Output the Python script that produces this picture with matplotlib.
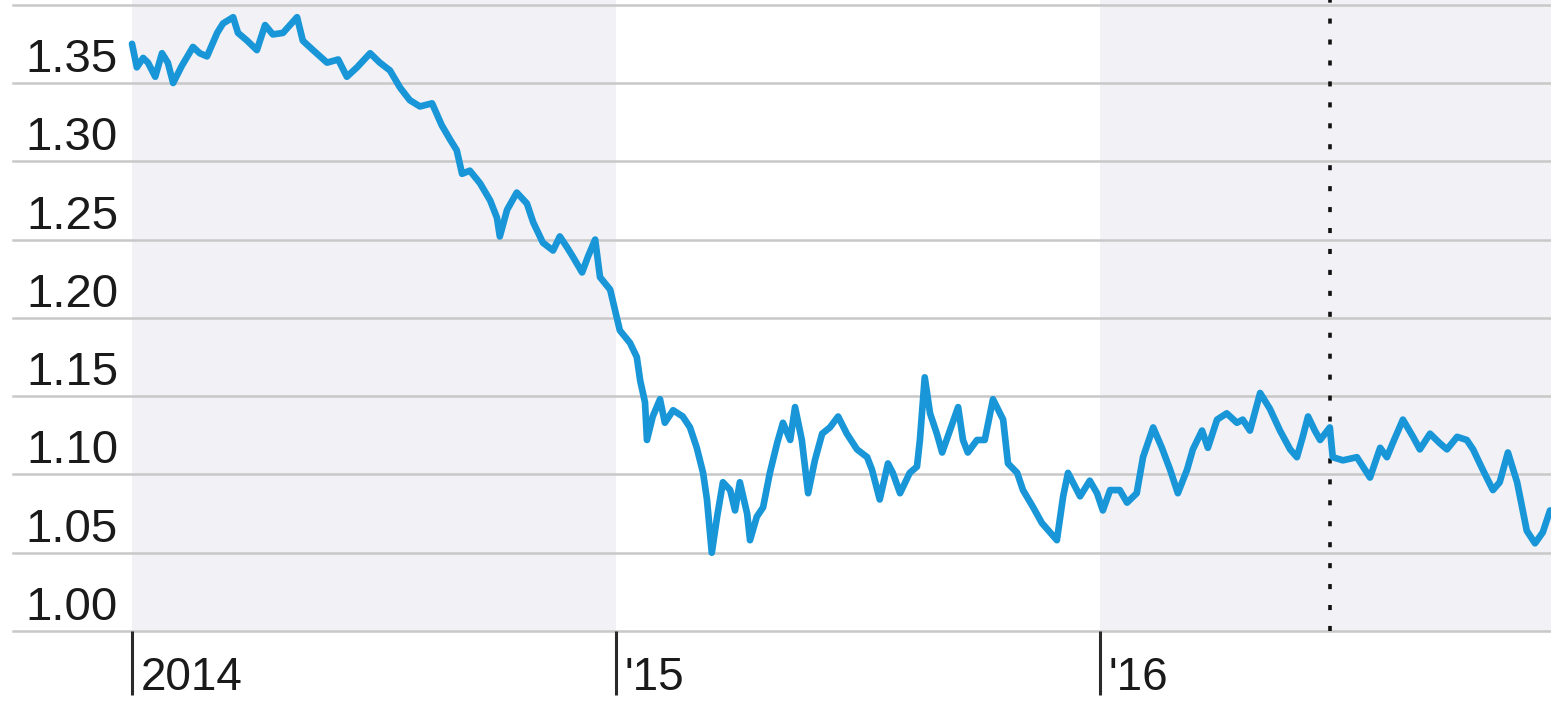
"""
Euro vs dollar, 2014 - late 2016
Line chart with shaded alternating years and a dotted marker at the Brexit vote
"""

import matplotlib
matplotlib.use('Agg')
import matplotlib.pyplot as plt

# ─────────────────────────────────────────────
# DATOS
# ─────────────────────────────────────────────
years = [
    2014.000, 2014.010, 2014.023, 2014.033, 2014.048, 2014.062, 2014.074, 2014.085,
    2014.103, 2014.126, 2014.140, 2014.155, 2014.176, 2014.188, 2014.209, 2014.219,
    2014.238, 2014.258, 2014.275, 2014.291, 2014.312, 2014.341, 2014.353, 2014.374,
    2014.403, 2014.426, 2014.444, 2014.465, 2014.492, 2014.512, 2014.533, 2014.554,
    2014.574, 2014.595, 2014.620, 2014.640, 2014.657, 2014.671, 2014.682, 2014.698,
    2014.719, 2014.740, 2014.754, 2014.760, 2014.775, 2014.795, 2014.816, 2014.829,
    2014.849, 2014.870, 2014.884, 2014.899, 2014.911, 2014.930, 2014.942, 2014.957,
    2014.967, 2014.988, 2015.008, 2015.029, 2015.043, 2015.050, 2015.060, 2015.064,
    2015.076, 2015.091, 2015.101, 2015.118, 2015.138, 2015.153, 2015.167, 2015.180,
    2015.188, 2015.198, 2015.209, 2015.221, 2015.236, 2015.246, 2015.256, 2015.271,
    2015.277, 2015.291, 2015.304, 2015.318, 2015.333, 2015.345, 2015.360, 2015.370,
    2015.384, 2015.397, 2015.411, 2015.426, 2015.442, 2015.459, 2015.477, 2015.498,
    2015.519, 2015.529, 2015.545, 2015.562, 2015.572, 2015.587, 2015.607, 2015.622,
    2015.628, 2015.638, 2015.649, 2015.663, 2015.674, 2015.690, 2015.707, 2015.717,
    2015.727, 2015.746, 2015.762, 2015.779, 2015.800, 2015.810, 2015.829, 2015.841,
    2015.862, 2015.880, 2015.897, 2015.911, 2015.924, 2015.934, 2015.944, 2015.959,
    2015.979, 2015.994, 2016.006, 2016.021, 2016.041, 2016.056, 2016.076, 2016.089,
    2016.110, 2016.128, 2016.145, 2016.161, 2016.180, 2016.192, 2016.211, 2016.223,
    2016.242, 2016.262, 2016.283, 2016.295, 2016.310, 2016.331, 2016.351, 2016.372,
    2016.393, 2016.407, 2016.419, 2016.430, 2016.444, 2016.455, 2016.465, 2016.475,
    2016.481, 2016.502, 2016.531, 2016.558, 2016.579, 2016.593, 2016.605, 2016.626,
    2016.647, 2016.661, 2016.682, 2016.702, 2016.717, 2016.738, 2016.758, 2016.771,
    2016.791, 2016.812, 2016.826, 2016.843, 2016.862, 2016.882, 2016.899, 2016.915,
    2016.930,
]

eur_usd = [
    1.375, 1.360, 1.366, 1.363, 1.354, 1.369, 1.363, 1.350,
    1.361, 1.373, 1.369, 1.367, 1.382, 1.388, 1.392, 1.382,
    1.377, 1.371, 1.387, 1.381, 1.382, 1.392, 1.377, 1.371,
    1.363, 1.365, 1.354, 1.360, 1.369, 1.363, 1.358, 1.347,
    1.339, 1.335, 1.337, 1.323, 1.314, 1.307, 1.292, 1.294,
    1.286, 1.275, 1.264, 1.252, 1.269, 1.280, 1.273, 1.261,
    1.248, 1.243, 1.252, 1.245, 1.239, 1.229, 1.239, 1.250,
    1.226, 1.218, 1.192, 1.184, 1.175, 1.160, 1.146, 1.122,
    1.137, 1.148, 1.133, 1.141, 1.137, 1.130, 1.117, 1.101,
    1.084, 1.050, 1.073, 1.095, 1.090, 1.077, 1.095, 1.075,
    1.058, 1.073, 1.079, 1.101, 1.120, 1.133, 1.122, 1.143,
    1.122, 1.088, 1.109, 1.126, 1.130, 1.137, 1.126, 1.116,
    1.111, 1.103, 1.084, 1.107, 1.101, 1.088, 1.101, 1.105,
    1.122, 1.162, 1.139, 1.126, 1.114, 1.128, 1.143, 1.122,
    1.114, 1.122, 1.122, 1.148, 1.135, 1.107, 1.101, 1.090,
    1.079, 1.069, 1.063, 1.058, 1.086, 1.101, 1.095, 1.086,
    1.096, 1.088, 1.077, 1.090, 1.090, 1.082, 1.088, 1.111,
    1.130, 1.117, 1.103, 1.088, 1.103, 1.116, 1.128, 1.117,
    1.135, 1.139, 1.133, 1.135, 1.128, 1.152, 1.142, 1.128,
    1.116, 1.111, 1.124, 1.137, 1.128, 1.122, 1.126, 1.130,
    1.111, 1.109, 1.111, 1.098, 1.117, 1.111, 1.120, 1.135,
    1.124, 1.116, 1.126, 1.120, 1.116, 1.124, 1.122, 1.116,
    1.103, 1.090, 1.095, 1.114, 1.095, 1.064, 1.056, 1.063,
    1.077,
]

y_ticks = [1.00, 1.05, 1.10, 1.15, 1.20, 1.25, 1.30, 1.35, 1.40]
y_labels = ['1.00', '1.05', '1.10', '1.15', '1.20', '1.25', '1.30', '1.35']
x_ticks = [2014, 2015, 2016]
x_labels = ['2014', "'15", "'16"]
shaded_years = [2014, 2016]
brexit_vote = 2016.475  # 23 junio 2016

# ─────────────────────────────────────────────
# ESTILO
# ─────────────────────────────────────────────
FONT = ['Liberation Sans', 'DejaVu Sans']
LINE_COLOR = '#1896d7'
GRID_COLOR = '#c8c8c8'
SHADE_COLOR = '#f1f1f6'
X_MIN, X_MAX = 2014.0, 2016.932
Y_MIN, Y_MAX = 1.0, 1.403

fig = plt.figure(figsize=(15.51, 7.03), dpi=100)
ax = fig.add_axes([132 / 1551, 1 - 631 / 703, 1 - 132 / 1551, 631 / 703])
ax.set_xlim(X_MIN, X_MAX)
ax.set_ylim(Y_MIN, Y_MAX)

# bandas de años alternos
for yr in shaded_years:
    ax.axvspan(yr, min(yr + 1, X_MAX), color=SHADE_COLOR, lw=0, zorder=0)

# líneas horizontales, se prolongan hacia las etiquetas
left_ext = -(132 - 13) / (1551 - 132)
for yv in y_ticks:
    ax.axhline(yv, xmin=left_ext, xmax=1, color=GRID_COLOR, lw=1.8,
               clip_on=False, zorder=1)

# marcador del referéndum
ax.axvline(brexit_vote, ymin=0, ymax=1, color='#111111', lw=2.6,
           dashes=(1.4, 4.4), zorder=2)

# serie
ax.plot(years, eur_usd, color=LINE_COLOR, lw=4.8, solid_joinstyle='round',
        solid_capstyle='round', zorder=3, clip_on=False)

# ejes
for s in ax.spines.values():
    s.set_visible(False)
ax.set_yticks([])
ax.set_xticks(x_ticks)
ax.tick_params(axis='x', length=46, width=2.2, color='#2a2a2a',
               direction='out', labelbottom=False)

for yv, lab in zip(y_ticks, y_labels):
    ax.annotate(lab, xy=(0, yv), xycoords=('axes fraction', 'data'),
                xytext=(-14, 11), textcoords='offset pixels',
                ha='right', va='baseline', fontsize=34, family=FONT,
                color='#1a1a1a')

for xv, lab in zip(x_ticks, x_labels):
    ax.annotate(lab, xy=(xv, 0), xycoords=('data', 'axes fraction'),
                xytext=(9, -59), textcoords='offset pixels',
                ha='left', va='baseline', fontsize=33, family=FONT,
                color='#1a1a1a')

plt.savefig('out.png', dpi=100)
